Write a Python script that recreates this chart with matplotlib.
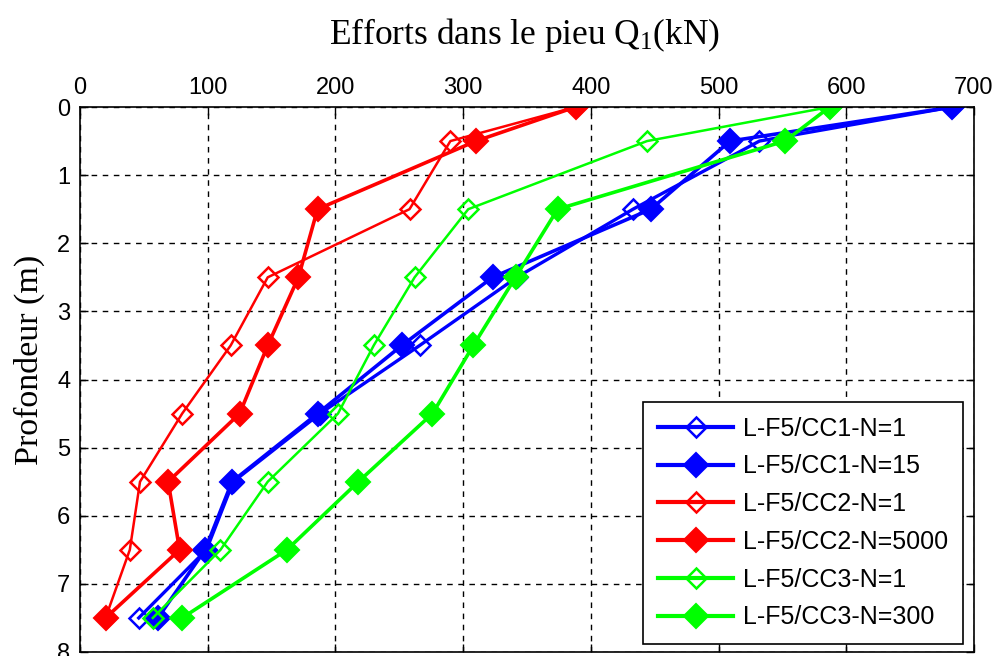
import matplotlib
matplotlib.use("Agg")
import matplotlib.pyplot as plt

depth = [0, 0.5, 1.5, 2.5, 3.5, 4.5, 5.5, 6.5, 7.5]

cc1_n1 = [683, 532, 433, 342, 266, 188, 120, 99, 46]
cc1_n15 = [683, 509, 447, 323, 252, 186, 119, 98, 61]
cc2_n1 = [388, 290, 258, 147, 118, 80, 47, 39, 20]
cc2_n5000 = [388, 310, 186, 171, 147, 125, 69, 78, 20]
cc3_n1 = [587, 444, 304, 262, 230, 202, 147, 110, 57]
cc3_n300 = [587, 552, 374, 341, 308, 276, 218, 162, 80]

labels = ["L-F5/CC1-N=1", "L-F5/CC1-N=15", "L-F5/CC2-N=1",
          "L-F5/CC2-N=5000", "L-F5/CC3-N=1", "L-F5/CC3-N=300"]
series = [cc1_n1, cc1_n15, cc2_n1, cc2_n5000, cc3_n1, cc3_n300]
colors = ["#0000ff", "#0000ff", "#ff0000", "#ff0000", "#00ff00", "#00ff00"]
filled = [False, True, False, True, False, True]
widths = [2.4, 2.6, 1.8, 2.6, 1.8, 2.6]

xticks = [0, 100, 200, 300, 400, 500, 600, 700]
yticks = [0, 1, 2, 3, 4, 5, 6, 7, 8]

plt.rcParams['mathtext.fontset'] = 'custom'
plt.rcParams['mathtext.rm'] = 'Liberation Serif'
plt.rcParams['mathtext.it'] = 'Liberation Serif:italic'

fig = plt.figure(figsize=(9.95, 6.56), dpi=100)
ax = fig.add_axes([80 / 995, 1 - 652 / 656, (974 - 80) / 995, (652 - 107) / 656])

for vals, lab, col, fl, lw in zip(series, labels, colors, filled, widths):
    if fl:
        ax.plot(vals, depth, color=col, lw=lw, marker='D', ms=12,
                mfc=col, mec=col, mew=1.5, label=lab)
    else:
        ax.plot(vals, depth, color=col, lw=lw, marker='D', ms=10,
                mfc='none', mec=col, mew=1.8, label=lab)

ax.set_xlim(0, 700)
ax.set_ylim(8, 0)
ax.set_xticks(xticks)
ax.set_yticks(yticks)
ax.xaxis.tick_top()
ax.tick_params(direction='in', length=6, width=1, top=True, bottom=True,
               left=True, right=True, labelsize=17)
ax.tick_params(axis='x', pad=6)
ax.tick_params(axis='y', pad=7)
for t in ax.get_xticklabels() + ax.get_yticklabels():
    t.set_fontfamily(['Liberation Sans', 'DejaVu Sans'])
ax.grid(True, color='black', linestyle=(0, (4, 4)), linewidth=1)
for s in ax.spines.values():
    s.set_linewidth(1.2)

fig.text(0.527, 0.947, r"Efforts dans le pieu Q$_1$(kN)", ha='center', va='center',
         fontsize=25.5, family='Liberation Serif')
fig.text(0.029, 0.451, "Profondeur (m)", ha='center', va='center', rotation=90,
         fontsize=24.5, family='Liberation Serif')

leg = ax.legend(loc='lower right', bbox_to_anchor=(0.988, 0.014),
                prop={'family': 'Liberation Sans', 'size': 18},
                fancybox=False, edgecolor='black', framealpha=1,
                handlelength=3.0, handletextpad=0.4, labelspacing=0.55,
                borderpad=0.6, borderaxespad=0)
leg.get_frame().set_linewidth(1.2)
for h in leg.get_lines():
    h.set_linewidth(3)

fig.savefig("out.png", dpi=100)
